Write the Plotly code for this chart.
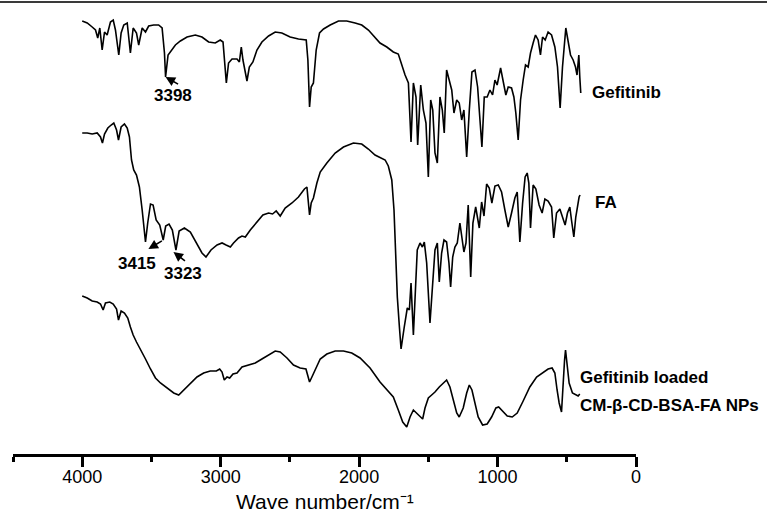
import plotly.graph_objects as go

# ---------------- data ----------------
# Wavenumbers (cm^-1) and transmittance in arbitrary, vertically offset units
gef_wn = [4000,3964,3928,3904,3888,3873,3856,3839,3820,3796,
          3776,3760,3736,3719,3700,3675,3652,3632,3608,3592,
          3567,3543,3520,3484,3448,3423,3406,3398,3380,3363,
          3327,3291,3243,3183,3135,3087,3039,3003,2983,2959,
          2943,2918,2882,2865,2851,2839,2810,2793,2767,2738,
          2702,2654,2606,2558,2498,2438,2382,2370,2358,2346,
          2330,2310,2286,2257,2209,2149,2089,2029,1981,1933,
          1885,1849,1800,1753,1717,1692,1668,1644,1625,1608,
          1589,1577,1555,1536,1517,1500,1483,1468,1452,1435,
          1416,1399,1385,1368,1351,1331,1315,1295,1277,1259,
          1243,1223,1204,1185,1163,1144,1127,1113,1096,1075,
          1055,1036,1019,1003,978,959,940,923,899,882,
          868,851,834,815,798,779,762,743,726,707,
          690,675,656,635,610,586,567,548,531,507,
          490,473,454,437,426,413,406,399]
gef_t = [433,431,427,424,416,426,404,422,419,432,
         434,424,399,421,429,431,401,426,421,409,
         426,422,428,429,429,426,401,377,399,402,
         409,413,417,419,417,412,411,414,412,371,
         391,395,395,392,407,394,373,387,392,404,
         412,418,422,421,417,415,414,394,347,367,
         371,404,421,425,429,433,433,431,429,424,
         417,411,407,402,400,389,379,371,312,371,
         357,309,369,344,331,277,354,344,301,291,
         357,344,321,384,374,364,341,354,351,334,
         344,297,344,382,384,367,334,307,357,357,
         364,359,374,369,386,371,359,367,366,357,
         341,314,354,374,389,387,401,411,419,414,
         399,417,414,422,419,407,387,346,387,426,
         414,399,394,387,379,399,377,361]

fa_wn = [4000,3964,3928,3892,3868,3854,3839,3815,3791,3772,
         3752,3738,3719,3695,3675,3659,3644,3628,3608,3587,
         3567,3543,3527,3507,3488,3466,3440,3415,3397,3373,
         3349,3323,3300,3262,3219,3176,3135,3106,3070,3026,
         2990,2961,2930,2907,2871,2846,2822,2786,2738,2695,
         2654,2625,2599,2570,2534,2485,2438,2395,2377,2368,
         2358,2346,2330,2305,2281,2233,2173,2113,2041,1981,
         1933,1885,1836,1812,1789,1764,1748,1733,1724,1709,
         1697,1675,1652,1637,1625,1608,1591,1580,1560,1543,
         1529,1512,1488,1468,1452,1435,1421,1404,1387,1368,
         1351,1339,1324,1308,1291,1272,1257,1243,1228,1212,
         1194,1178,1158,1144,1132,1115,1098,1079,1060,1041,
         1019,995,971,947,923,899,875,858,839,819,
         801,786,774,762,743,723,700,678,658,635,
         610,594,574,550,531,512,495,478,466,449,
         435,420,411,404]
fa_t = [321,321,320,321,317,311,320,326,329,331,
        324,314,327,330,326,317,294,284,279,267,
        244,212,231,250,249,234,229,214,228,230,
        224,204,223,226,222,212,201,197,204,209,
        211,209,207,211,216,218,217,224,232,239,
        241,240,243,238,246,251,257,265,267,256,
        239,251,256,271,282,291,301,307,311,310,
        305,299,296,294,288,274,244,194,157,127,
        105,126,146,144,171,119,177,204,211,207,
        212,191,131,177,204,211,172,201,214,212,
        191,167,197,207,211,231,217,202,211,249,
        177,231,247,234,226,252,238,270,266,251,
        268,269,262,244,227,241,256,262,212,251,
        277,281,271,226,269,265,249,241,255,253,
        247,216,241,245,237,229,241,247,234,217,
        237,252,257,259]

np_wn = [4000,3964,3928,3892,3868,3849,3832,3801,3776,3752,
         3738,3719,3695,3671,3652,3632,3608,3580,3543,3507,
         3471,3435,3387,3339,3303,3267,3219,3171,3123,3075,
         3031,3007,2990,2974,2954,2935,2911,2882,2846,2798,
         2750,2702,2654,2606,2570,2521,2474,2426,2384,2373,
         2358,2341,2317,2281,2233,2173,2113,2053,1993,1921,
         1849,1800,1753,1717,1685,1656,1632,1608,1584,1560,
         1541,1524,1500,1476,1452,1421,1392,1368,1344,1320,
         1295,1277,1248,1223,1204,1185,1163,1140,1108,1075,
         1043,1012,992,964,930,894,858,815,767,718,
         671,635,606,586,570,555,538,527,516,509,
         498,483,459,435,418,406]
np_t = [158,156,153,152,150,144,151,152,150,145,
        134,143,141,136,127,119,112,104,95,85,
        76,71,66,61,59,64,71,77,81,83,
        83,85,82,74,77,76,80,81,87,89,
        91,95,99,103,102,96,89,86,85,79,
        72,77,84,95,100,103,103,101,96,86,
        72,64,57,44,32,27,37,44,41,37,
        35,46,56,59,62,67,71,74,67,54,
        41,37,46,61,69,64,52,37,29,30,
        37,46,47,43,38,37,41,53,67,77,
        82,85,86,81,64,51,42,71,94,104,
        89,71,61,59,58,60]

series_names = ["Gefitinib", "FA", "Gefitinib loaded CM-β-CD-BSA-FA NPs"]
x_tick_vals = [4000, 3000, 2000, 1000, 0]
x_tick_text = ["4000", "3000", "2000", "1000", "0"]

# ---------------- figure ----------------
FONT = "Liberation Sans, Arial, sans-serif"
fig = go.Figure()
for wn, t, name in [(gef_wn, gef_t, series_names[0]),
                    (fa_wn, fa_t, series_names[1]),
                    (np_wn, np_t, series_names[2])]:
    fig.add_trace(go.Scatter(x=wn, y=t, mode="lines", name=name,
                             line=dict(color="black", width=1.6),
                             showlegend=False))

ann = []
# series labels
label_font = dict(family=FONT, size=17, color="black")
for x, y, txt in [(334, 362, "<b>Gefitinib</b>"),
                  (312, 252, "<b>FA</b>"),
                  (420, 77, "<b>Gefitinib loaded</b>"),
                  (420, 49, "<b>CM-β-CD-BSA-FA NPs</b>")]:
    ann.append(dict(x=x, y=y, text=txt, showarrow=False, xanchor="left",
                    yanchor="middle", font=label_font))
# peak labels
for x, y, txt in [(3341, 359, "<b>3398</b>"),
                  (3601, 191, "<b>3415</b>"),
                  (3269, 181, "<b>3323</b>")]:
    ann.append(dict(x=x, y=y, text=txt, showarrow=False, xanchor="center",
                    yanchor="middle", font=label_font))
# arrows (tip at the band, short tail)
for x, y, ax, ay in [(3398, 377, 14, 8),
                     (3522, 205, 15, -9),
                     (3341, 202, 13, 10)]:
    ann.append(dict(x=x, y=y, text=" ", showarrow=True, ax=ax, ay=ay,
                    arrowhead=2, arrowsize=1.2, arrowwidth=1.6,
                    arrowcolor="black", standoff=0,
                    font=dict(size=1)))
# axis title
ann.append(dict(xref="paper", yref="paper", x=0.5, y=-0.1057,
                text="Wave number/cm⁻¹", showarrow=False,
                xanchor="center", yanchor="middle",
                font=dict(family=FONT, size=21, color="black")))

fig.update_layout(
    width=767, height=514,
    margin=dict(l=13, r=131, t=0, b=60),
    paper_bgcolor="white", plot_bgcolor="white",
    annotations=ann,
    shapes=[dict(type="line", xref="paper", yref="paper",
                 x0=-0.05, x1=1.3, y0=0.9956, y1=0.9956,
                 line=dict(color="#3a3a3a", width=2))],
    xaxis=dict(range=[4500, 0], tickvals=x_tick_vals, ticktext=x_tick_text,
               showline=True, linecolor="black", linewidth=2.5,
               ticks="outside", ticklen=10, tickwidth=2.5, tickcolor="black",
               ticklabelstandoff=-5,
               minor=dict(dtick=500, tick0=0, ticks="outside", ticklen=5,
                          tickwidth=2.5, tickcolor="black", showgrid=False),
               showgrid=False, zeroline=False, automargin=False,
               tickfont=dict(family=FONT, size=18, color="black")),
    yaxis=dict(visible=False, range=[0, 454]),
)
fig.write_html("out.html")
